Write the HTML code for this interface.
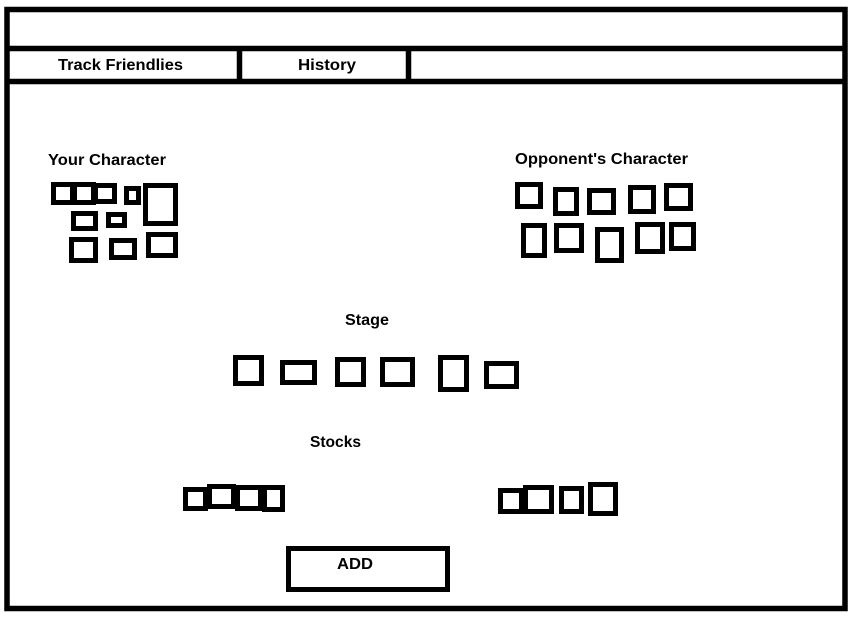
<!DOCTYPE html>
<html><head><meta charset="utf-8"><style>
html,body{margin:0;padding:0;background:#fff;}
svg{display:block;}
text{font-family:"Liberation Sans",sans-serif;font-weight:bold;font-size:16px;fill:#000;}
</style></head><body>
<svg width="853" height="617" viewBox="0 0 853 617" xmlns="http://www.w3.org/2000/svg">
<rect width="853" height="617" fill="#fff"/>
<g fill="none" stroke="#000" stroke-width="5.5">
<rect x="7" y="9.5" width="838" height="599"/>
<line x1="7" y1="48.5" x2="845" y2="48.5"/>
<line x1="7" y1="81.5" x2="845" y2="81.5"/>
<line x1="239.5" y1="48.5" x2="239.5" y2="81.5"/>
<line x1="408.5" y1="48.5" x2="408.5" y2="81.5"/>
</g>
<g fill="none" stroke="#000" stroke-width="5">
<rect x="53.5" y="184.5" width="19" height="18"/>
<rect x="74.5" y="184.5" width="19" height="18"/>
<rect x="95.5" y="185.5" width="19" height="16"/>
<rect x="126.5" y="188.5" width="12" height="14"/>
<rect x="145.5" y="185.5" width="30" height="38"/>
<rect x="73.5" y="213.5" width="22" height="15"/>
<rect x="108.5" y="214.5" width="16" height="11"/>
<rect x="71.5" y="239.5" width="24" height="21"/>
<rect x="111.5" y="240.5" width="23" height="17"/>
<rect x="148.5" y="234.5" width="27" height="21"/>
<rect x="517.5" y="184.5" width="23" height="22"/>
<rect x="555.5" y="189.5" width="21" height="24"/>
<rect x="589.5" y="190.5" width="24" height="22"/>
<rect x="630.5" y="187.5" width="23" height="24"/>
<rect x="666.5" y="185.5" width="24" height="23"/>
<rect x="523.5" y="225.5" width="21" height="30"/>
<rect x="556.5" y="225.5" width="25" height="25"/>
<rect x="597.5" y="229.5" width="24" height="31"/>
<rect x="637.5" y="224.5" width="25" height="27"/>
<rect x="671.5" y="224.5" width="22" height="24"/>
<rect x="235.5" y="357.5" width="26" height="26"/>
<rect x="282.5" y="362.5" width="32" height="20"/>
<rect x="337.5" y="359.5" width="26" height="25"/>
<rect x="382.5" y="359.5" width="30" height="25"/>
<rect x="440.5" y="357.5" width="26" height="32"/>
<rect x="486.5" y="363.5" width="30" height="23"/>
<rect x="185.5" y="489.5" width="20" height="19"/>
<rect x="209.5" y="486.5" width="24" height="20"/>
<rect x="237.5" y="487.5" width="23" height="21"/>
<rect x="264.5" y="487.5" width="18" height="22"/>
<rect x="500.5" y="490.5" width="21" height="21"/>
<rect x="525.5" y="487.5" width="26" height="24"/>
<rect x="561.5" y="488.5" width="20" height="23"/>
<rect x="590.5" y="484.5" width="25" height="29"/>
<rect x="288.5" y="548.5" width="159" height="41"/>
</g>
<text x="58" y="70" textLength="125" lengthAdjust="spacingAndGlyphs">Track Friendlies</text>
<text x="298" y="70" textLength="58" lengthAdjust="spacingAndGlyphs">History</text>
<text x="48" y="165" textLength="118" lengthAdjust="spacingAndGlyphs">Your Character</text>
<text x="515" y="164" textLength="173" lengthAdjust="spacingAndGlyphs">Opponent's Character</text>
<text x="345" y="325" textLength="44" lengthAdjust="spacingAndGlyphs">Stage</text>
<text x="310" y="447" textLength="51" lengthAdjust="spacingAndGlyphs">Stocks</text>
<text x="337" y="569" textLength="36" lengthAdjust="spacingAndGlyphs">ADD</text>
</svg>
</body></html>
